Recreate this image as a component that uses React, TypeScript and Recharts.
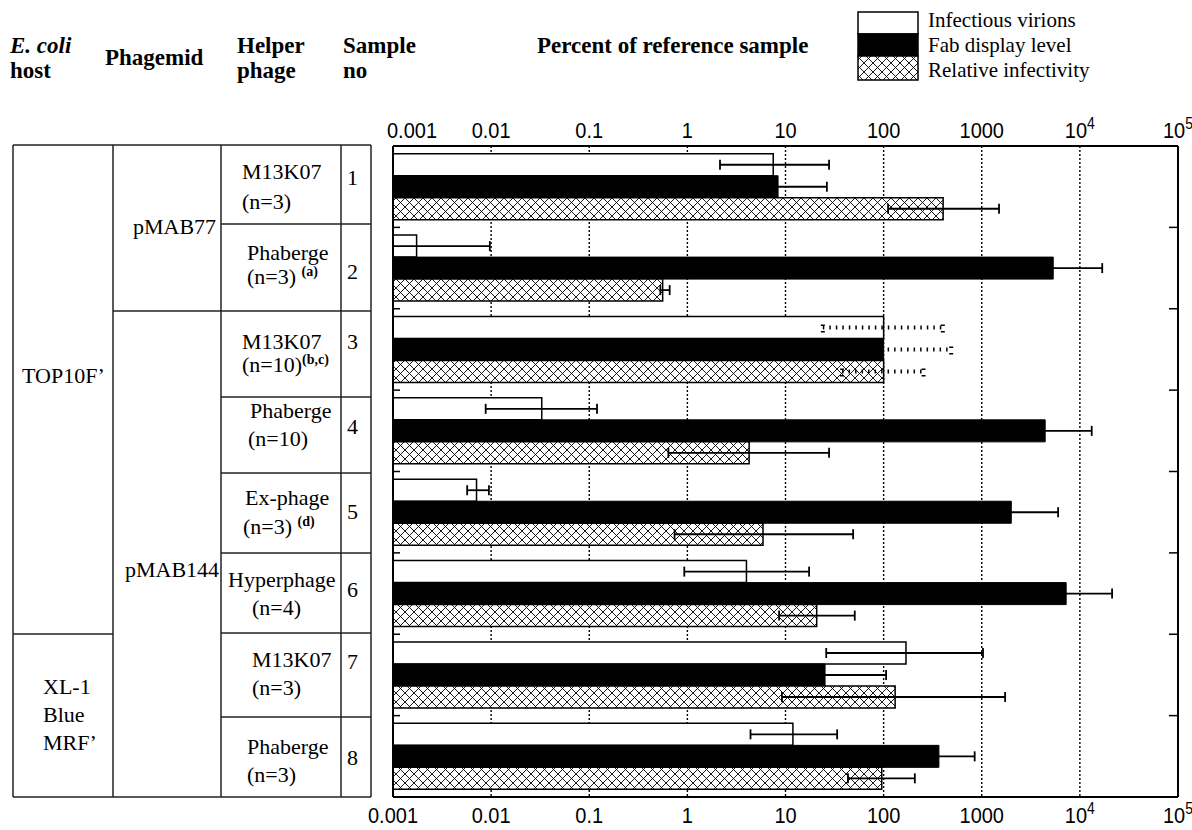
import React from "react";
import { BarChart, Bar, XAxis, YAxis, CartesianGrid, ErrorBar } from "recharts";

const SAMPLES = ["1", "2", "3", "4", "5", "6", "7", "8"];
const REFERENCE_SAMPLE = "3"; // its error bars are dotted

// percent of reference sample (sample 3 = 100)
const VIRIONS = [7.5, 0.00174, 100, 0.0328, 0.0071, 4.0, 169, 11.9];
const VIRIONS_LOW = [2.15, 0.001, 24, 0.0088, 0.0057, 0.93, 26, 4.4];
const VIRIONS_HIGH = [27.8, 0.0097, 401, 0.12, 0.0095, 17.4, 1030, 33.6];

const FAB = [8.4, 5350, 100, 4430, 2000, 7250, 25.3, 366];
const FAB_LOW = [2.7, 1700, 20.5, 1490, 670, 2470, 6.0, 158];
const FAB_HIGH = [26.4, 16900, 488, 13200, 6000, 21300, 106, 847];

const INFECTIVITY = [404, 0.56, 100, 4.26, 5.9, 20.8, 131, 95.7];
const INFECTIVITY_LOW = [111, 0.53, 37.7, 0.64, 0.74, 8.6, 9.2, 43.3];
const INFECTIVITY_HIGH = [1500, 0.66, 255, 27.8, 48.9, 50.8, 1730, 208];

const X_TICKS = [0.001, 0.01, 0.1, 1, 10, 100, 1000, 10000, 100000];
const X_TICK_BASE = ["0.001", "0.01", "0.1", "1", "10", "100", "1000", "10", "10"];
const X_TICK_EXP = ["", "", "", "", "", "", "", "4", "5"];

const LEGEND = ["Infectious virions", "Fab display level", "Relative infectivity"];

const HOSTS = ["TOP10F’", ["XL-1", "Blue", "MRF’"]];
const PHAGEMIDS = ["pMAB77", "pMAB144"];
const HELPERS = [
  ["M13K07", "(n=3)"],
  ["Phaberge", "(n=3) "],
  ["M13K07", "(n=10)"],
  ["Phaberge", "(n=10)"],
  ["Ex-phage", "(n=3) "],
  ["Hyperphage", "(n=4)"],
  ["M13K07", "(n=3)"],
  ["Phaberge", "(n=3)"],
];
const HELPER_NOTES = ["", "(a)", "(b,c)", "", "(d)", "", "", ""];

const rows = SAMPLES.map((sample, i) => ({
  sample,
  virions: VIRIONS[i],
  virionsErr: [VIRIONS[i] - VIRIONS_LOW[i], VIRIONS_HIGH[i] - VIRIONS[i]],
  fab: FAB[i],
  fabErr: [FAB[i] - FAB_LOW[i], FAB_HIGH[i] - FAB[i]],
  infectivity: INFECTIVITY[i],
  infectivityErr: [INFECTIVITY[i] - INFECTIVITY_LOW[i], INFECTIVITY_HIGH[i] - INFECTIVITY[i]],
}));

const SERIF = "'Liberation Serif', 'Times New Roman', serif";
const SANS = "'Liberation Sans', Arial, sans-serif";

function LogTick(props: any) {
  const { x, y, payload, index, side } = props;
  const i = X_TICKS.indexOf(payload.value);
  const first = side === "top" && index === 0;
  const tx = first ? x - 6 : x;
  const ty = side === "top" ? y : y + 18;
  return (
    <text
      x={0}
      y={0}
      transform={`translate(${tx},${ty}) scale(1,1.12)`}
      textAnchor={first ? "start" : "middle"}
      fontFamily={SANS}
      fontSize={20}
      fill="#000"
    >
      {X_TICK_BASE[i]}
      {X_TICK_EXP[i] ? (
        <tspan dy={-8} fontSize={14}>
          {X_TICK_EXP[i]}
        </tspan>
      ) : null}
    </text>
  );
}

// short inward tick at the upper edge of each sample's band
function BoundaryTick(props: any) {
  const { x, y, index, visibleTicksCount, height, payload, side } = props;
  if (index === 0) return <g />;
  const band = payload && payload.offset ? payload.offset * 2 : height / visibleTicksCount;
  const by = y - band / 2;
  const len = side === "left" ? 7 : -9;
  return <line x1={x} y1={by} x2={x + len} y2={by} stroke="#000" strokeWidth={1.5} />;
}

function solidErr(key: string) {
  return (d: any) => (d.sample === REFERENCE_SAMPLE ? null : d[key]);
}
function dottedErr(key: string) {
  return (d: any) => (d.sample === REFERENCE_SAMPLE ? d[key] : null);
}

function Overlay() {
  const line = { stroke: "#222", strokeWidth: 1.5 };
  const rowLines = [224, 311, 397, 473, 553, 633, 717];
  const helperY = [[172, 202], [253, 277], [342, 365], [411, 439], [498, 527], [580, 608], [660, 688], [747, 775]];
  const helperX = [[242, 242], [247, 247], [242, 242], [250, 248], [245, 243], [228, 252], [252, 252], [247, 247]];
  const numY = [178, 272, 342, 427, 512, 590, 662, 758];
  const legendRows = [
    { y: 12, h: 22, fill: "#fff", ty: 20 },
    { y: 34, h: 22, fill: "#000", ty: 45 },
    { y: 56, h: 24, fill: "url(#crosshatch)", ty: 70 },
  ];

  return (
    <svg width={1192} height={830} style={{ position: "absolute", left: 0, top: 0 }}>
      {/* column headers */}
      <g fontFamily={SERIF} fontSize={23} fontWeight="bold" fill="#000">
        <text x={10} y={53} fontStyle="italic">E. coli</text>
        <text x={10} y={78}>host</text>
        <text x={105} y={65}>Phagemid</text>
        <text x={237} y={53}>Helper</text>
        <text x={237} y={78}>phage</text>
        <text x={343} y={53}>Sample</text>
        <text x={343} y={78}>no</text>
        <text x={537} y={53}>Percent of reference sample</text>
      </g>

      {/* legend */}
      {legendRows.map((r, i) => (
        <g key={i}>
          <rect x={858} y={r.y} width={60} height={r.h} fill={r.fill} stroke="#000" strokeWidth={1.5} />
          <text x={928} y={r.ty + 7} fontFamily={SERIF} fontSize={21} fill="#000">
            {LEGEND[i]}
          </text>
        </g>
      ))}

      {/* table grid */}
      {[13, 113, 221, 341, 371].map((x) => (
        <line key={x} x1={x} y1={145} x2={x} y2={797} {...line} />
      ))}
      <line x1={13} y1={145} x2={371} y2={145} {...line} />
      <line x1={13} y1={797} x2={371} y2={797} {...line} />
      <line x1={13} y1={634} x2={113} y2={634} {...line} />
      <line x1={113} y1={311} x2={221} y2={311} {...line} />
      {rowLines.map((y) => (
        <line key={y} x1={221} y1={y} x2={371} y2={y} {...line} />
      ))}

      <g fontFamily={SERIF} fontSize={22} fill="#000">
        <text x={22} y={383}>{HOSTS[0] as string}</text>
        {(HOSTS[1] as string[]).map((t, i) => (
          <text key={t} x={43} y={694 + i * 28}>{t}</text>
        ))}
        <text x={133} y={234}>{PHAGEMIDS[0]}</text>
        <text x={125} y={577}>{PHAGEMIDS[1]}</text>
        {HELPERS.map((h, i) => (
          <g key={i}>
            <text x={helperX[i][0]} y={helperY[i][0] + 7}>{h[0]}</text>
            <text x={helperX[i][1]} y={helperY[i][1] + 7}>
              {h[1]}
              {HELPER_NOTES[i] ? (
                <tspan dy={-8} fontSize={14} fontWeight="bold">
                  {HELPER_NOTES[i]}
                </tspan>
              ) : null}
            </text>
            <text x={347} y={numY[i] + 7}>{SAMPLES[i]}</text>
          </g>
        ))}
      </g>
    </svg>
  );
}

export default function App() {
  const axisLine = { stroke: "#000", strokeWidth: 2 };
  const errSolid = { stroke: "#000", strokeWidth: 1.8, width: 5 };
  const errDotted = { stroke: "#000", strokeWidth: 4, strokeDasharray: "1.5 5", width: 5 };

  return (
    <div style={{ position: "absolute", left: 0, top: 0, width: 1192, height: 830, background: "#fff" }}>
      <svg width={0} height={0} style={{ position: "absolute" }}>
        <defs>
          <pattern id="crosshatch" patternUnits="userSpaceOnUse" width={9} height={9}>
            <rect width={9} height={9} fill="#fff" />
            <path d="M0,0 L9,9 M9,0 L0,9" stroke="#000" strokeWidth={0.9} />
          </pattern>
        </defs>
      </svg>
      <Overlay />
      <div style={{ position: "absolute", left: 0, top: 0 }}>
        <BarChart
          width={1192}
          height={830}
          data={rows}
          layout="vertical"
          margin={{ top: 145, right: 14, bottom: 32, left: 393 }}
          barGap={0}
          barCategoryGap="9.5%"
        >
          <CartesianGrid horizontal={false} stroke="#000" strokeDasharray="2 2" strokeWidth={1.4} />
          <XAxis
            type="number"
            scale="log"
            domain={[0.001, 100000]}
            allowDataOverflow
            ticks={X_TICKS}
            interval={0}
            height={1}
            tickLine={false}
            axisLine={axisLine}
            tick={<LogTick side="bottom" />}
          />
          <XAxis
            xAxisId="top"
            orientation="top"
            type="number"
            scale="log"
            domain={[0.001, 100000]}
            allowDataOverflow
            ticks={X_TICKS}
            interval={0}
            height={1}
            tickLine={false}
            axisLine={axisLine}
            tick={<LogTick side="top" />}
          />
          <YAxis yAxisId="cat" type="category" dataKey="sample" hide />
          <YAxis
            yAxisId="catL"
            type="category"
            dataKey="sample"
            interval={0}
            width={1}
            mirror
            tickSize={0}
            tickMargin={0}
            tickLine={false}
            tick={<BoundaryTick side="left" />}
            axisLine={axisLine}
          />
          <YAxis
            yAxisId="catR"
            orientation="right"
            type="category"
            dataKey="sample"
            interval={0}
            width={1}
            mirror
            tickSize={0}
            tickMargin={0}
            tickLine={false}
            tick={<BoundaryTick side="right" />}
            axisLine={axisLine}
          />
          <Bar yAxisId="cat" dataKey="virions" fill="#fff" stroke="#000" strokeWidth={1.5} isAnimationActive={false}>
            <ErrorBar dataKey={solidErr("virionsErr")} {...errSolid} isAnimationActive={false} />
            <ErrorBar dataKey={dottedErr("virionsErr")} {...errDotted} isAnimationActive={false} />
          </Bar>
          <Bar yAxisId="cat" dataKey="fab" fill="#000" stroke="#000" strokeWidth={1} isAnimationActive={false}>
            <ErrorBar dataKey={solidErr("fabErr")} {...errSolid} isAnimationActive={false} />
            <ErrorBar dataKey={dottedErr("fabErr")} {...errDotted} isAnimationActive={false} />
          </Bar>
          <Bar
            yAxisId="cat"
            dataKey="infectivity"
            fill="url(#crosshatch)"
            stroke="#000"
            strokeWidth={1.5}
            isAnimationActive={false}
          >
            <ErrorBar dataKey={solidErr("infectivityErr")} {...errSolid} isAnimationActive={false} />
            <ErrorBar dataKey={dottedErr("infectivityErr")} {...errDotted} isAnimationActive={false} />
          </Bar>
        </BarChart>
      </div>
    </div>
  );
}
